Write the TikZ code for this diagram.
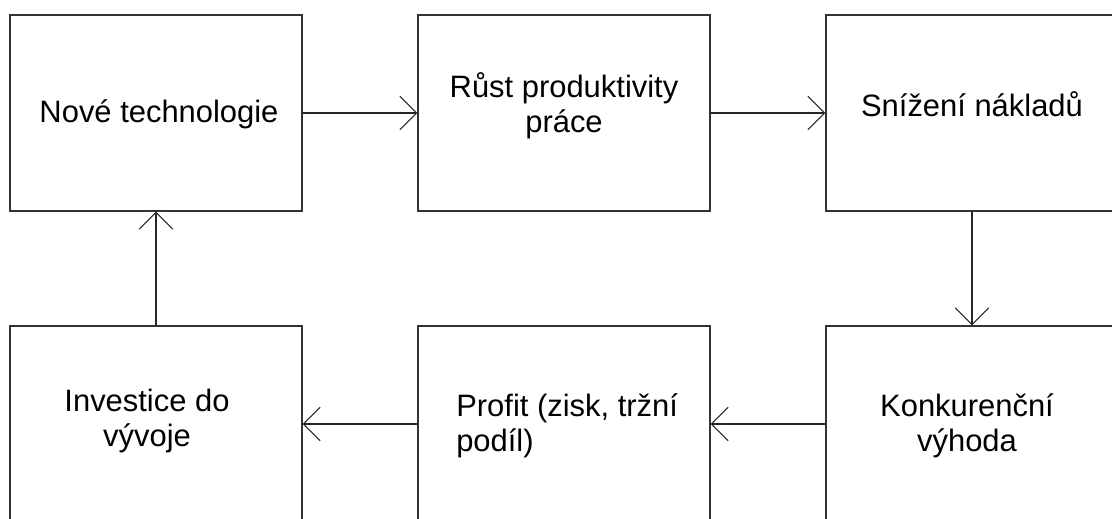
\documentclass[tikz,border=0pt]{standalone}
\usepackage{fontspec}
\setmainfont{Liberation Sans}
\usetikzlibrary{arrows.meta}

\tikzset{
  box/.style={draw=black!80, line width=0.8pt, minimum width=7.3cm, minimum height=4.9cm},
  lbl/.style={inner sep=0pt, align=center, font=\fontsize{22}{25}\selectfont},
  arr/.style={draw=black!85, line width=0.8pt, -{Straight Barb[length=4.2mm,width=8.4mm]}}
}

\begin{document}
\begin{tikzpicture}

\clip (0,0) rectangle (27.8,12.95);

% Boxes
\node[box] (tech) at (3.9,10.125) {};
\node[box] (prod) at (14.1,10.125) {};
\node[box] (cost) at (24.3,10.125) {};
\node[box] (inv) at (3.9,2.35) {};
\node[box] (profit) at (14.1,2.35) {};
\node[box] (comp) at (24.3,2.35) {};

% Labels (base = last line)
\node[lbl, anchor=base] (techtxt) at (3.975,9.875) {Nové technologie};
\node[lbl, anchor=base] (prodtxt) at (14.1,9.635) {Růst produktivity\\práce};
\node[lbl, anchor=base] (costtxt) at (24.3,10.025) {Snížení nákladů};
\node[lbl, anchor=base] (invtxt) at (3.675,1.785) {Investice do\\vývoje};
\node[lbl, anchor=base west, align=left] (profittxt) at (11.4,1.655) {Profit (zisk, tržní\\podíl)};
\node[lbl, anchor=base] (comptxt) at (24.175,1.655) {Konkurenční\\výhoda};

% Arrows
\draw[arr] (tech) -- (prod);
\draw[arr] (prod) -- (cost);
\draw[arr] (cost) -- (comp);
\draw[arr] (comp) -- (profit);
\draw[arr] (profit) -- (inv);
\draw[arr] (inv) -- (tech);

\end{tikzpicture}
\end{document}
